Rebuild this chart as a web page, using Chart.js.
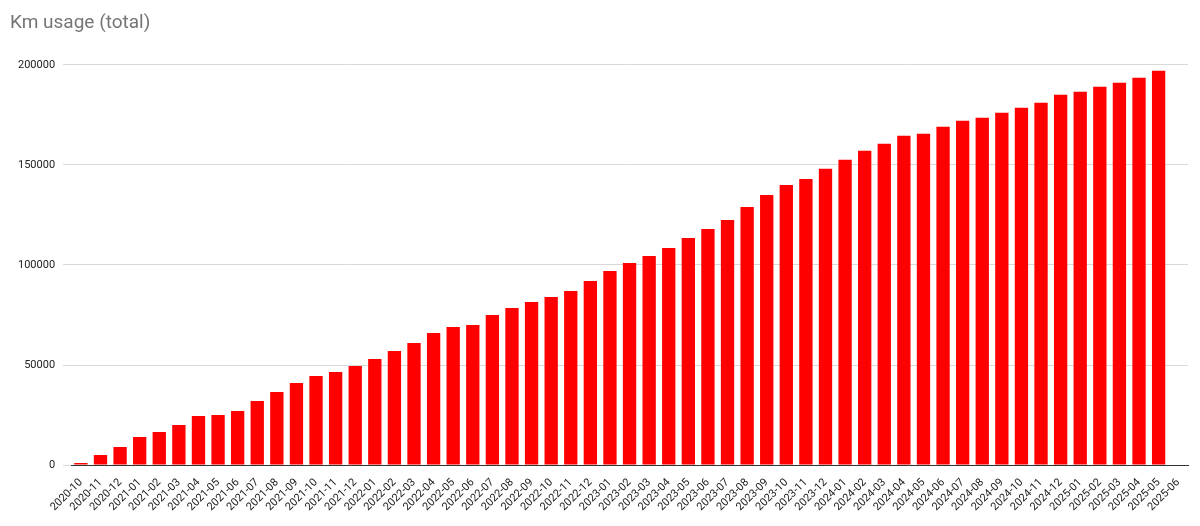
<!DOCTYPE html>
<html><head><meta charset="utf-8">
<script src="https://cdn.jsdelivr.net/npm/chart.js@4/dist/chart.umd.min.js"></script>
<style>html,body{margin:0;padding:0;background:#fff;overflow:hidden;}#w{width:1200px;height:548px;position:relative;}</style>
</head><body><div id="w"><canvas id="c"></canvas></div>
<script>
const categories = ["2020-10","2020-11","2020-12","2021-01","2021-02","2021-03","2021-04","2021-05","2021-06","2021-07","2021-08","2021-09","2021-10","2021-11","2021-12","2022-01","2022-02","2022-03","2022-04","2022-05","2022-06","2022-07","2022-08","2022-09","2022-10","2022-11","2022-12","2023-01","2023-02","2023-03","2023-04","2023-05","2023-06","2023-07","2023-08","2023-09","2023-10","2023-11","2023-12","2024-01","2024-02","2024-03","2024-04","2024-05","2024-06","2024-07","2024-08","2024-09","2024-10","2024-11","2024-12","2025-01","2025-02","2025-03","2025-04","2025-05","2025-06"];
const kmTotal = [1000,5000,9000,14000,16500,20000,24500,25000,27000,32000,36500,41000,44500,46500,49500,53000,57000,61000,66000,69000,70000,75000,78500,81500,84000,87000,92000,97000,101000,104500,108500,113500,118000,122500,129000,135000,140000,143000,148000,152500,157000,160500,164500,165500,169000,172000,173500,176000,178500,181000,185000,186500,189000,191000,193500,197000,null];
new Chart(document.getElementById('c'), {
  type: 'bar',
  data: { labels: categories, datasets: [{ label: 'Km', data: kmTotal, backgroundColor: '#ff0000', categoryPercentage: 0.68, barPercentage: 1 }] },
  options: {
    responsive: true, maintainAspectRatio: false, animation: false,
    layout: { padding: { left: 10, right: 12, top: 8, bottom: 0 } },
    plugins: {
      legend: { display: false },
      title: { display: true, text: 'Km usage (total)', align: 'start', color: '#757575', font: { family: 'Roboto', size: 19, weight: 'normal' }, padding: { top: 4, bottom: 30 } }
    },
    scales: {
      x: { grid: { display: false }, border: { color: '#333' },
           ticks: { color: '#222', font: { family: 'Roboto', size: 11 }, maxRotation: 45, minRotation: 45, autoSkip: false },
           title: { display: true, text: 'Year - Month', color: '#222', font: { family: 'Roboto', size: 11 }, padding: { top: 14 } } },
      y: { min: 0, max: 200000, grid: { color: '#d9d9d9' }, border: { display: false },
           ticks: { stepSize: 50000, color: '#222', font: { family: 'Roboto', size: 11 }, padding: 8, callback: v => String(v) } }
    }
  }
});
</script></body></html>
